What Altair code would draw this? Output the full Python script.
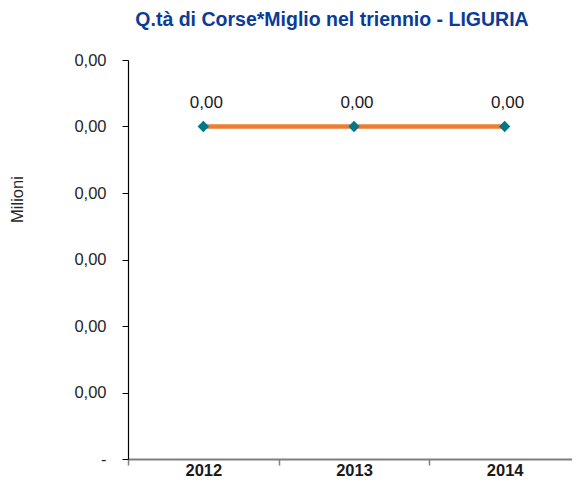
import altair as alt
import pandas as pd

years = ["2012", "2013", "2014"]
values_milioni = [0.0025, 0.0025, 0.0025]
y_ticks = [0, 0.0005, 0.001, 0.0015, 0.002, 0.0025, 0.003]

df = pd.DataFrame({"anno": years, "valore": values_milioni})

fmt = "datum.valore == 0 ? '-' : replace(format(datum.valore, '.2f'), '.', ',')"

x = alt.X(
    "anno:N",
    sort=years,
    title=None,
    scale=alt.Scale(type="band", paddingInner=0, paddingOuter=0),
    axis=alt.Axis(
        labelAngle=0,
        labelFont="Liberation Sans",
        labelFontSize=16.5,
        labelFontWeight="bold",
        labelColor="#1a1a1a",
        labelBaseline="alphabetic",
        labelPadding=10,
        domainColor="#7f7f7f",
        domainWidth=2,
        tickColor="#7f7f7f",
        tickWidth=1.5,
        tickSize=6,
        tickBand="extent",
        grid=False,
    ),
)
y = alt.Y(
    "valore:Q",
    title="Milioni",
    scale=alt.Scale(domain=[0, 0.003], nice=False, zero=True),
    axis=alt.Axis(
        values=y_ticks,
        labelExpr="datum.value == 0 ? '-\u00a0\u00a0' : replace(format(datum.value, '.2f'), '.', ',')",
        labelFont="Liberation Sans",
        labelFontSize=16.5,
        labelColor="#262626",
        labelPadding=16,
        domainColor="#000000",
        domainWidth=1.2,
        tickColor="#000000",
        tickSize=6,
        grid=False,
        titleFont="Liberation Sans",
        titleFontSize=16.5,
        titleFontWeight="normal",
        titleColor="#262626",
        titleAngle=-90,
        titleX=-111,
        titleY=139,
        titleAlign="center",
        titleBaseline="middle",
    ),
)

base = alt.Chart(df).encode(x=x, y=y)

line = base.mark_line(color="#ED7D31", strokeWidth=4.5)
points = base.mark_point(shape="diamond", filled=True, size=130, color="#00788A", opacity=1)
labels = base.transform_calculate(lab=fmt).mark_text(
    dy=-24, dx=3, font="Liberation Sans", fontSize=17, color="#1a1a1a"
).encode(text="lab:N")

chart = (
    alt.layer(line, points, labels)
    .properties(
        width=452,
        height=399,
        autosize=alt.AutoSizeParams(type="none"),
        padding={"left": 120, "top": 52, "right": -8, "bottom": 21},
        title=alt.TitleParams(
            "Q.tà di Corse*Miglio nel triennio - LIGURIA",
            font="Liberation Sans",
            fontSize=19.5,
            fontWeight="bold",
            color="#0B3C96",
            anchor="middle",
            frame="group",
            dx=-22,
            offset=22,
        ),
    )
    .configure_view(stroke=None)
)

chart.save("out.html", embed_options={"renderer": "svg", "actions": False})
